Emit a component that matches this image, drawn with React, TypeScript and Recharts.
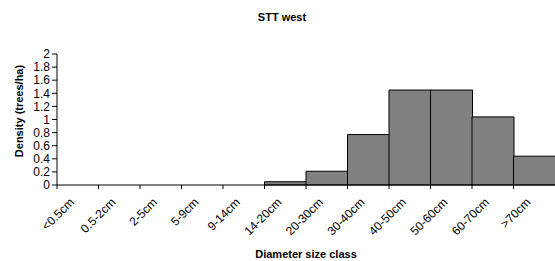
import { BarChart, Bar, XAxis, YAxis } from "recharts";

const classes = ['<0.5cm', '0.5-2cm', '2-5cm', '5-9cm', '9-14cm', '14-20cm', '20-30cm', '30-40cm', '40-50cm', '50-60cm', '60-70cm', '>70cm'];
const density = [0, 0, 0, 0, 0, 0.05, 0.21, 0.77, 1.45, 1.45, 1.04, 0.44];
const yTicks = [0, 0.2, 0.4, 0.6, 0.8, 1, 1.2, 1.4, 1.6, 1.8, 2];

const data = classes.map((c, i) => ({ name: c, value: density[i] }));

const FONT = '"Liberation Sans", Arial, sans-serif';
const W = 555;
const H = 261;
const LEFT = 57;
const BAND = (W - LEFT) / classes.length;

// category label rotated, plus a tick mark on the left edge of each band
function ClassTick(props: any) {
	const { x, y, payload } = props;
	const edge = x - BAND / 2;
	const ax = x - 3;
	const ay = y + 10;
	return (
		<g>
			<line x1={edge} y1={y - 8} x2={edge} y2={y - 4} stroke="#000" />
			<text
				x={ax}
				y={ay}
				transform={`rotate(-45, ${ax}, ${ay})`}
				textAnchor="end"
				fontSize={12}
				fontFamily={FONT}
				fill="#000"
			>
				{payload.value}
			</text>
		</g>
	);
}

export default function App() {
	return (
		<div style={{ position: 'absolute', left: 0, top: 0, width: W, height: H, background: '#fff' }}>
			<BarChart
				width={W}
				height={H}
				data={data}
				margin={{ top: 54, right: 0, left: 0, bottom: 0 }}
				barCategoryGap={0}
			>
				<text x={282} y={21} textAnchor="middle" fontSize={11} fontWeight="bold" fontFamily={FONT}>
					STT west
				</text>
				<text
					x={23}
					y={111}
					transform="rotate(-90, 23, 111)"
					textAnchor="middle"
					fontSize={11}
					fontWeight="bold"
					fontFamily={FONT}
				>
					Density (trees/ha)
				</text>
				<text x={306} y={258} textAnchor="middle" fontSize={11} fontWeight="bold" fontFamily={FONT}>
					Diameter size class
				</text>
				<XAxis
					dataKey="name"
					interval={0}
					axisLine={{ stroke: '#000' }}
					tickLine={false}
					tick={<ClassTick />}
					height={76}
				/>
				<YAxis
					width={LEFT}
					domain={[0, 2]}
					ticks={yTicks}
					interval={0}
					axisLine={{ stroke: '#000' }}
					tickLine={{ stroke: '#000' }}
					tickSize={5}
					tick={{ fill: '#000', fontSize: 12, fontFamily: FONT }}
				/>
				<Bar dataKey="value" fill="#808080" stroke="#000" strokeWidth={1} isAnimationActive={false} />
			</BarChart>
		</div>
	);
}
